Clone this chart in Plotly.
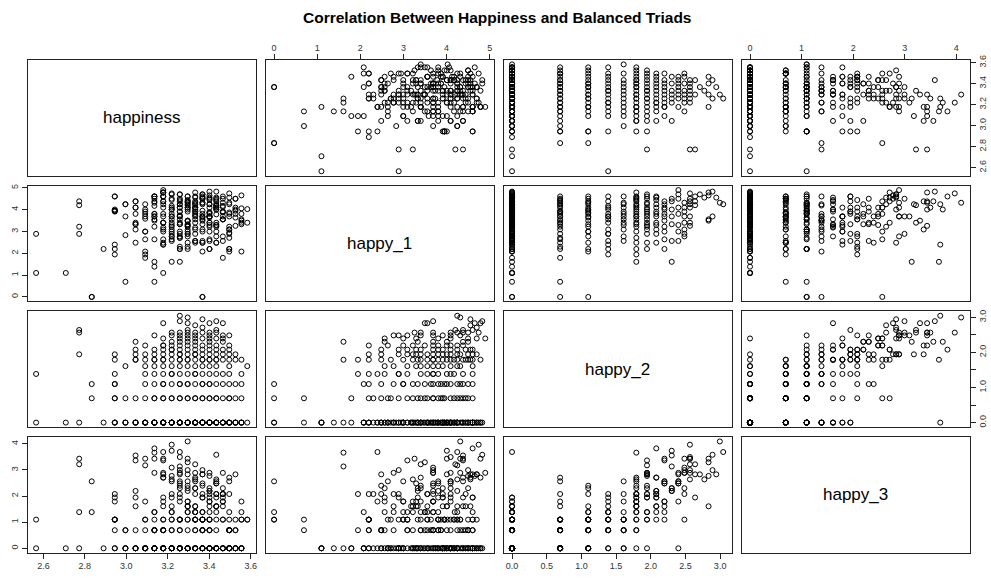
import numpy as np
import plotly.graph_objects as go

# Raw counts per respondent; every variable is plotted on the natural-log scale.
happiness_n = [
    13, 15, 16, 18, 19, 19, 20, 20, 21, 21, 21, 22, 22, 22, 23, 23, 23, 23, 23, 24,
    24, 24, 24, 24, 24, 25, 25, 25, 25, 25, 26, 26, 26, 26, 26, 27, 27, 27, 27, 27,
    28, 28, 28, 28, 28, 29, 29, 29, 29, 29, 30, 30, 30, 30, 30, 31, 31, 31, 31, 32,
    32, 32, 32, 33, 33, 33, 33, 34, 34, 34, 35, 35, 35, 22, 26, 29, 31, 25, 27, 23,
    20, 23, 24, 25, 26, 27, 28, 29, 30, 31, 33, 34, 21,
    29, 29, 19, 22, 24, 26, 27, 28, 30, 32, 35, 36,
    23, 25, 27, 30, 33, 24, 28, 31, 26, 30, 25, 29, 24,
    17, 23, 19, 19, 24, 25, 26, 27, 28, 29, 30, 31, 32, 33, 34, 35, 22, 26, 28, 30,
    27, 25, 23, 31, 33, 24, 29, 21, 20,
    17, 19, 19, 23, 24, 25, 26, 27, 28, 29, 30, 31, 32, 33, 34, 35, 26, 29, 24, 27,
    22, 30,
    13, 19, 23, 24, 25, 26, 27, 28, 29, 30, 31, 32, 33, 35, 22, 28, 25,
    20, 23, 24, 25, 26, 27, 28, 29, 30, 31, 33, 36, 22,
    19, 21, 22, 23, 24, 25, 26, 27, 28, 29, 30, 31, 32, 33, 34, 35, 24, 27, 29, 26,
    23, 30, 21, 31,
    16, 19, 21, 22, 23, 24, 25, 26, 27, 28, 29, 30, 31, 32, 33, 34, 28, 26,
    21, 23, 24, 25, 26, 27, 28, 29, 30, 31, 32, 33, 25,
    22, 24, 25, 26, 27, 28, 29, 30, 31, 33, 24,
    21, 25, 26, 28, 30, 32, 27,
    24, 26, 28, 29, 31, 32, 30, 27,
    23, 25, 27, 28, 30, 32, 33, 26,
    16, 25, 26, 28, 29, 30, 31, 27,
    16, 27, 31, 29, 28, 24, 27, 30, 32, 31, 26, 29, 27, 26,
]

happy1_n = [
    3, 3, 18, 9, 100, 55, 70, 17, 60, 30, 12, 50, 20, 8, 100, 45, 25, 14, 4, 120,
    80, 40, 22, 11, 3, 110, 65, 35, 18, 5, 90, 50, 28, 15, 9, 100, 60, 32, 16, 10,
    120, 70, 42, 24, 13, 110, 75, 38, 20, 8, 125, 85, 48, 27, 14, 95, 55, 30, 12, 100,
    62, 35, 6, 115, 70, 40, 19, 90, 52, 26, 105, 58, 33, 36, 42, 52, 44, 85, 78, 65,
    2, 45, 30, 16, 70, 22, 55, 12, 38, 90, 25, 60, 80,
    1, 1, 52, 14, 70, 35, 9, 100, 20, 48, 28, 56,
    40, 13, 66, 30, 8, 24, 50, 16, 20, 60, 45, 28, 11,
    1, 2, 100, 52, 60, 30, 85, 18, 45, 12, 70, 25, 40, 15, 90, 35, 6, 10, 80, 9,
    50, 22, 33, 65, 48, 14, 75, 28, 40,
    1, 9, 52, 80, 45, 20, 60, 33, 12, 90, 25, 55, 16, 75, 38, 8, 28, 40, 100, 70,
    20, 48,
    18, 11, 100, 30, 55, 9, 80, 22, 40, 13, 65, 35, 18, 45, 7, 60, 40,
    70, 35, 100, 16, 50, 27, 75, 13, 40, 60, 22, 30, 45,
    7, 60, 40, 5, 120, 25, 80, 12, 50, 35, 95, 20, 65, 9, 45, 30, 100, 55, 70, 15,
    90, 40, 28, 85,
    25, 50, 22, 70, 40, 12, 90, 30, 60, 18, 100, 45, 27, 75, 9, 55, 35, 110,
    45, 100, 30, 60, 18, 85, 40, 22, 70, 12, 50, 95, 27,
    55, 80, 14, 40, 25, 70, 33, 9, 60, 45, 20,
    80, 55, 5, 13, 40, 90, 28,
    134, 110, 60, 45, 27, 13, 90, 20,
    75, 40, 18, 60, 30, 50, 22, 16,
    80, 115, 60, 30, 90, 40, 70, 26,
    67, 100, 80, 110, 95, 120, 33, 105, 35, 125, 40, 95, 75, 70,
]

happy2_n = [
    1, 1, 1, 1, 1, 1, 1, 1, 1, 1, 1, 1, 1, 1, 1, 1, 1, 1, 1, 1,
    1, 1, 1, 1, 1, 1, 1, 1, 1, 1, 1, 1, 1, 1, 1, 1, 1, 1, 1, 1,
    1, 1, 1, 1, 1, 1, 1, 1, 1, 1, 1, 1, 1, 1, 1, 1, 1, 1, 1, 1,
    1, 1, 1, 1, 1, 1, 1, 1, 1, 1, 1, 1, 1, 1, 1, 1, 1, 1, 1, 1,
    1, 1, 1, 1, 1, 1, 1, 1, 1, 1, 1, 1, 1,
    1, 1, 1, 1, 1, 1, 1, 1, 1, 1, 1, 1,
    1, 1, 1, 1, 1, 1, 1, 1, 1, 1, 1, 1, 1,
    2, 2, 2, 2, 2, 2, 2, 2, 2, 2, 2, 2, 2, 2, 2, 2, 2, 2, 2, 2,
    2, 2, 2, 2, 2, 2, 2, 2, 2,
    3, 3, 3, 3, 3, 3, 3, 3, 3, 3, 3, 3, 3, 3, 3, 3, 3, 3, 3, 3,
    3, 3,
    4, 4, 4, 4, 4, 4, 4, 4, 4, 4, 4, 4, 4, 4, 4, 4, 4,
    5, 5, 5, 5, 5, 5, 5, 5, 5, 5, 5, 5, 5,
    6, 6, 6, 6, 6, 6, 6, 6, 6, 6, 6, 6, 6, 6, 6, 6, 6, 6, 6, 6,
    6, 6, 6, 6,
    7, 7, 7, 7, 7, 7, 7, 7, 7, 7, 7, 7, 7, 7, 7, 7, 7, 7,
    8, 8, 8, 8, 8, 8, 8, 8, 8, 8, 8, 8, 8,
    9, 9, 9, 9, 9, 9, 9, 9, 9, 9, 9,
    10, 10, 10, 10, 10, 10, 10,
    11, 11, 11, 11, 11, 11, 11, 11,
    12, 12, 12, 12, 12, 12, 12, 12,
    13, 13, 13, 13, 13, 13, 13, 13,
    14, 14, 14, 15, 16, 17, 17, 17, 17, 18, 18, 19, 20, 21,
]

happy3_n = [
    1, 1, 1, 1, 1, 1, 1, 1, 1, 1, 1, 1, 1, 1, 1, 1, 1, 1, 1, 1,
    1, 1, 1, 1, 1, 1, 1, 1, 1, 1, 1, 1, 1, 1, 1, 1, 1, 1, 1, 1,
    1, 1, 1, 1, 1, 1, 1, 1, 1, 1, 1, 1, 1, 1, 1, 1, 1, 1, 1, 1,
    1, 1, 1, 1, 1, 1, 1, 1, 1, 1, 1, 1, 1, 1, 1, 1, 1, 1, 1, 1,
    2, 2, 2, 2, 2, 2, 2, 2, 2, 2, 2, 2, 2,
    3, 3, 3, 3, 3, 3, 3, 3, 3, 3, 3, 3,
    4, 4, 4, 4, 4, 5, 5, 5, 6, 6, 7, 7, 40,
    13, 3, 2, 3, 1, 1, 2, 1, 3, 2, 1, 5, 6, 1, 2, 3, 1, 8, 15, 2,
    1, 3, 2, 1, 2, 1, 3, 1, 2,
    4, 3, 3, 1, 2, 3, 1, 4, 2, 3, 1, 5, 8, 2, 3, 1, 10, 11, 2, 3,
    1, 2,
    3, 6, 4, 2, 1, 3, 5, 4, 2, 7, 3, 8, 1, 4, 2, 3, 2,
    1, 2, 3, 4, 1, 6, 3, 2, 8, 13, 2, 3, 3,
    8, 7, 6, 39, 15, 14, 13, 11, 10, 8, 5, 4, 3, 2, 1, 6, 7, 5, 4, 3,
    2, 6, 5, 8,
    4, 7, 29, 24, 18, 17, 16, 11, 10, 8, 7, 3, 1, 18, 8, 17, 4, 3,
    9, 46, 15, 8, 7, 5, 4, 3, 9, 8, 7, 15, 5,
    31, 29, 13, 12, 6, 5, 4, 3, 12, 13, 6,
    35, 42, 23, 10, 9, 10, 9,
    18, 17, 13, 12, 12, 6, 1, 13,
    31, 22, 20, 18, 10, 8, 3, 18,
    31, 53, 33, 25, 20, 18, 14, 31,
    25, 17, 7, 17, 14, 31, 27, 16, 5, 36, 20, 17, 60, 40,
]

var_names = ["happiness", "happy_1", "happy_2", "happy_3"]

# Axis ticks for each variable (bottom/top ticks, and left/right ticks)
tick_vals = [
    [2.6, 2.8, 3.0, 3.2, 3.4, 3.6],
    [0, 1, 2, 3, 4, 5],
    [0.0, 0.5, 1.0, 1.5, 2.0, 2.5, 3.0],
    [0, 1, 2, 3, 4],
]
tick_text_x = [
    ["2.6", "2.8", "3.0", "3.2", "3.4", "3.6"],
    ["0", "1", "2", "3", "4", "5"],
    ["0.0", "0.5", "1.0", "1.5", "2.0", "2.5", "3.0"],
    ["0", "1", "2", "3", "4"],
]
tick_text_y = [
    ["2.6", "2.8", "3.0", "3.2", "3.4", "3.6"],
    ["0", "1", "2", "3", "4", "5"],
    ["0.0", "", "1.0", "", "2.0", "", "3.0"],
    ["0", "1", "2", "3", "4"],
]

counts = [happiness_n, happy1_n, happy2_n, happy3_n]
assert len(set(len(c) for c in counts)) == 1
vals = [np.log(np.asarray(c, dtype=float)) for c in counts]

W, H = 991, 578
col_px = [(27.7, 256.0), (265.9, 494.2), (504.1, 732.4), (742.3, 970.6)]
row_px = [(55.7, 172.3), (182.7, 299.3), (309.7, 426.3), (436.7, 553.3)]


def padded_range(v):
    lo, hi = float(v.min()), float(v.max())
    d = hi - lo
    return [lo - 0.04 * d, hi + 0.04 * d]


FONT = "Liberation Sans, Arial, Helvetica, sans-serif"
LINE = "#222222"
tick_font = dict(family=FONT, size=9, color="#333333")

fig = go.Figure()
layout = dict(
    width=W, height=H,
    margin=dict(l=0, r=0, t=0, b=0),
    paper_bgcolor="white", plot_bgcolor="white",
    showlegend=False,
    font=dict(family=FONT, color="black"),
)
annotations = []

n = len(var_names)
for i in range(n):
    for j in range(n):
        k = i * n + j + 1
        xname = "xaxis" if k == 1 else f"xaxis{k}"
        yname = "yaxis" if k == 1 else f"yaxis{k}"
        xref = "x" if k == 1 else f"x{k}"
        yref = "y" if k == 1 else f"y{k}"

        base = dict(showline=True, linecolor=LINE, linewidth=1, mirror=True,
                    showgrid=False, zeroline=False, ticks="", showticklabels=False,
                    fixedrange=True)
        xa = dict(base, domain=[col_px[j][0] / W, col_px[j][1] / W],
                  range=padded_range(vals[j]), anchor=yref)
        ya = dict(base, domain=[1 - row_px[i][1] / H, 1 - row_px[i][0] / H],
                  range=padded_range(vals[i]), anchor=xref)

        if i == 0 and j in (1, 3):
            xa.update(side="top", ticks="outside", ticklen=5, tickcolor=LINE,
                      showticklabels=True, tickvals=tick_vals[j],
                      ticktext=tick_text_x[j], tickfont=tick_font)
        if i == n - 1 and j in (0, 2):
            xa.update(side="bottom", ticks="outside", ticklen=5, tickcolor=LINE,
                      showticklabels=True, tickvals=tick_vals[j],
                      ticktext=tick_text_x[j], tickfont=tick_font)
        if j == 0 and i in (1, 3):
            ya.update(side="left", ticks="outside", ticklen=5, tickcolor=LINE,
                      showticklabels=True, tickvals=tick_vals[i],
                      ticktext=tick_text_y[i], tickfont=tick_font, tickangle=-90)
        if j == n - 1 and i in (0, 2):
            ya.update(side="right", ticks="outside", ticklen=5, tickcolor=LINE,
                      showticklabels=True, tickvals=tick_vals[i],
                      ticktext=tick_text_y[i], tickfont=tick_font, tickangle=-90)

        layout[xname] = xa
        layout[yname] = ya

        if i == j:
            # empty trace so the diagonal panel frame is drawn
            fig.add_trace(go.Scatter(
                x=[None], y=[None], xaxis=xref, yaxis=yref,
                mode="markers", hoverinfo="skip",
            ))
            annotations.append(dict(
                text=var_names[i], xref=f"{xref} domain", yref=f"{yref} domain",
                x=0.5, y=0.5, showarrow=False,
                font=dict(family=FONT, size=17, color="black"),
            ))
        else:
            fig.add_trace(go.Scatter(
                x=vals[j], y=vals[i], xaxis=xref, yaxis=yref,
                mode="markers", hoverinfo="skip",
                marker=dict(symbol="circle-open", size=5, color="black",
                            line=dict(width=1, color="black")),
            ))

annotations.append(dict(
    text="<b>Correlation Between Happiness and Balanced Triads</b>",
    xref="paper", yref="paper", x=497.5 / W, y=1 - 13 / H,
    xanchor="center", yanchor="middle", showarrow=False,
    font=dict(family=FONT, size=15.5, color="black"),
))
layout["annotations"] = annotations

fig.update_layout(**layout)
fig.write_html("out.html")
